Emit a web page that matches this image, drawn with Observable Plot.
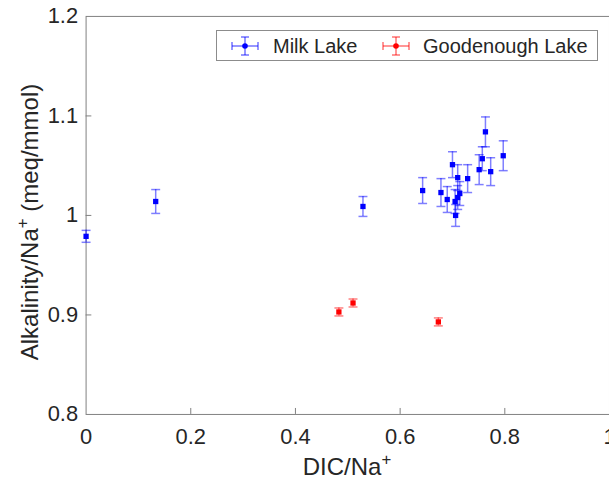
<!DOCTYPE html>
<html><head><meta charset="utf-8">
<script src="https://cdn.jsdelivr.net/npm/d3@7"></script>
<script src="https://cdn.jsdelivr.net/npm/@observablehq/plot@0.6"></script>
<style>
html,body{margin:0;padding:0;background:#fff;overflow:hidden;}
#wrap{position:relative;width:609px;height:491px;overflow:hidden;font-family:"Liberation Sans",Arial,sans-serif;color:#262626;}
#wrap svg{position:absolute;left:0;top:0;}
.t{position:absolute;font-size:24px;line-height:28px;white-space:nowrap;}
.t sup{font-size:0.7em;line-height:0;vertical-align:0.6em;}
#legend{position:absolute;left:216px;top:30px;width:382px;height:31px;box-sizing:border-box;border:1px solid #8c8c8c;background:#fff;}
#legend .ic{position:absolute;top:3px;}
#legend .lt{position:absolute;top:3px;font-size:20px;line-height:24px;}
</style></head><body><div id="wrap"></div>
<script>
// Milk Lake
const milkX   = [0.000, 0.133, 0.529, 0.643, 0.678, 0.690, 0.700, 0.710, 0.706, 0.705, 0.710, 0.714, 0.729, 0.751, 0.757, 0.763, 0.773, 0.797];
const milkY   = [0.979, 1.014, 1.009, 1.025, 1.023, 1.016, 1.051, 1.038, 1.000, 1.014, 1.018, 1.022, 1.037, 1.046, 1.057, 1.084, 1.044, 1.060];
const milkErr = [0.006, 0.012, 0.010, 0.013, 0.014, 0.013, 0.013, 0.013, 0.011, 0.012, 0.012, 0.012, 0.014, 0.015, 0.012, 0.015, 0.014, 0.015];
// Goodenough Lake
const goodX   = [0.483, 0.510, 0.673];
const goodY   = [0.903, 0.912, 0.893];
const goodErr = [0.004, 0.004, 0.004];

const xTicks = [0, 0.2, 0.4, 0.6, 0.8, 1];
const yTicks = [0.8, 0.9, 1, 1.1, 1.2];
const xDomain = [0, 1];
const yDomain = [0.8, 1.2];

const milk = milkX.map((x, i) => ({x, y: milkY[i], e: milkErr[i]}));
const good = goodX.map((x, i) => ({x, y: goodY[i], e: goodErr[i]}));

const cap = {draw(ctx) { ctx.moveTo(-4.5, 0); ctx.lineTo(4.5, 0); }};
const axisColor = "#808080";

function series(data, color) {
  return [
    Plot.ruleX(data, {x: "x", y1: d => d.y - d.e, y2: d => d.y + d.e, stroke: color, strokeOpacity: 0.5, strokeWidth: 1.5}),
    Plot.dot(data, {x: "x", y: d => d.y - d.e, symbol: cap, stroke: color, strokeOpacity: 0.5, strokeWidth: 1.5, fill: "none"}),
    Plot.dot(data, {x: "x", y: d => d.y + d.e, symbol: cap, stroke: color, strokeOpacity: 0.5, strokeWidth: 1.5, fill: "none"}),
    Plot.dot(data, {x: "x", y: "y", symbol: "square", r: 3, fill: color, stroke: "none"})
  ];
}

const chart = Plot.plot({
  width: 612, height: 491,
  marginLeft: 86, marginRight: 0, marginTop: 16, marginBottom: 75,
  style: {fontFamily: "Liberation Sans, Arial, sans-serif", fontSize: "22px", color: "#262626", background: "transparent", overflow: "visible"},
  x: {domain: xDomain},
  y: {domain: yDomain},
  marks: [
    Plot.frame({stroke: axisColor}),
    Plot.ruleX(xTicks.slice(1, -1), {x: d => d, y1: yDomain[0], y2: yDomain[0] + 0.006, stroke: axisColor}),
    Plot.ruleY(yTicks.slice(1, -1), {y: d => d, x1: xDomain[0], x2: xDomain[0] + 0.011, stroke: axisColor}),
    Plot.axisX({ticks: xTicks, tickSize: 0, tickPadding: 14, tickFormat: d => String(d), label: null, fontSize: 22}),
    Plot.axisY({ticks: yTicks, tickSize: 0, tickPadding: 8, tickFormat: d => String(d), label: null, fontSize: 22}),
    ...series(milk, "#0000ff"),
    ...series(good, "#ff0000")
  ]
});

const wrap = document.getElementById("wrap");
wrap.appendChild(chart);

function icon(color) {
  return `<svg width="30" height="24" viewBox="0 0 30 24">
    <g stroke="${color}" stroke-opacity="0.55" stroke-width="1.5" fill="none">
      <line x1="15" y1="3" x2="15" y2="21"/><line x1="11" y1="3" x2="19" y2="3"/><line x1="11" y1="21" x2="19" y2="21"/>
      <line x1="2" y1="12" x2="28" y2="12"/><line x1="2" y1="8" x2="2" y2="16"/><line x1="28" y1="8" x2="28" y2="16"/>
    </g><circle cx="15" cy="12" r="2.8" fill="${color}"/></svg>`;
}

wrap.insertAdjacentHTML("beforeend", `
  <div class="t" style="left:347px;top:453px;transform:translateX(-50%);">DIC/Na<sup>+</sup></div>
  <div class="t" style="left:30px;top:222px;transform:translate(-50%,-50%) rotate(-90deg);">Alkalinity/Na<sup>+</sup> (meq/mmol)</div>
  <div id="legend">
    <div class="ic" style="left:13px;">${icon("#0000ff")}</div>
    <div class="lt" style="left:56px;">Milk Lake</div>
    <div class="ic" style="left:164px;">${icon("#ff0000")}</div>
    <div class="lt" style="left:206px;">Goodenough Lake</div>
  </div>`);
</script>
</body></html>
